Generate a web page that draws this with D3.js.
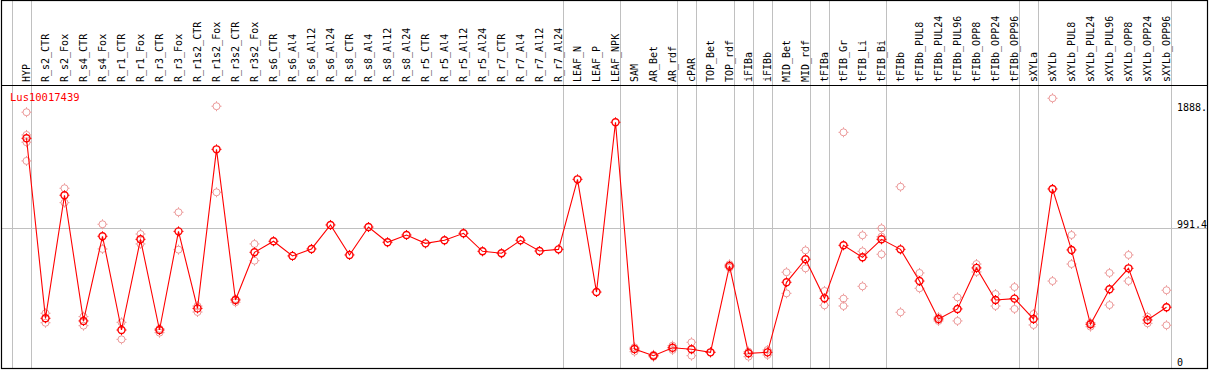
<!DOCTYPE html>
<html>
<head>
<meta charset="utf-8">
<script src="https://cdn.jsdelivr.net/npm/d3@7"></script>
<style>
  body { margin: 0; background: #fff; }
  text { font-family: "DejaVu Sans Mono", monospace; }
</style>
</head>
<body>
<div class="myChart"></div>
<script>
var geneName = 'Lus10017439'

var categories = ['HYP', 'R_s2_CTR', 'R_s2_Fox', 'R_s4_CTR', 'R_s4_Fox', 'R_r1_CTR', 'R_r1_Fox',
    'R_r3_CTR', 'R_r3_Fox', 'R_r1s2_CTR', 'R_r1s2_Fox', 'R_r3s2_CTR', 'R_r3s2_Fox', 'R_s6_CTR',
    'R_s6_Al4', 'R_s6_Al12', 'R_s6_Al24', 'R_s8_CTR', 'R_s8_Al4', 'R_s8_Al12', 'R_s8_Al24',
    'R_r5_CTR', 'R_r5_Al4', 'R_r5_Al12', 'R_r5_Al24', 'R_r7_CTR', 'R_r7_Al4', 'R_r7_Al12',
    'R_r7_Al24', 'LEAF_N', 'LEAF_P', 'LEAF_NPK', 'SAM', 'AR_Bet', 'AR_rdf', 'cPAR', 'TOP_Bet',
    'TOP_rdf', 'iFIBa', 'iFIBb', 'MID_Bet', 'MID_rdf', 'tFIBa', 'tFIB_Gr', 'tFIB_Li', 'tFIB_Bi',
    'tFIBb', 'tFIBb_PUL8', 'tFIBb_PUL24', 'tFIBb_PUL96', 'tFIBb_OPP8', 'tFIBb_OPP24', 'tFIBb_OPP96',
    'sXYLa', 'sXYLb', 'sXYLb_PUL8', 'sXYLb_PUL24', 'sXYLb_PUL96', 'sXYLb_OPP8', 'sXYLb_OPP24',
    'sXYLb_OPP96']

// mean expression per sample
var means = [1632, 342, 1224, 323, 930, 258, 908, 258, 965, 413, 1553, 473, 815,
    894, 789, 839, 1011, 796, 996, 887, 939, 879, 901, 951, 822, 808, 901, 824, 836,
    1338, 530, 1747,
    122, 74, 131, 120, 98, 717, 91, 98, 600, 765, 485, 865, 779, 908,
    836, 609, 337, 409, 703, 473, 483,
    337, 1269, 832, 299, 550, 700, 330, 421]

// single replicates (light circles)
var replicates = [
    [1819, 1656, 1604, 1470], [378, 310], [1274, 1171], [354, 289], [1016, 839],
    [313, 191], [946, 875], [267, 239], [1102, 834], [430, 387], [1862, 1245],
    [480, 457], [875, 755],
    [], [], [], [], [], [], [], [], [], [], [], [], [], [], [], [],
    [], [], [],
    [134, 103], [80, 66], [146, 115], [170, 74], [98], [729, 705], [103, 67], [115, 79],
    [672, 521], [829, 700], [538, 435], [1675, 483, 430], [937, 822, 571], [987, 927, 801],
    [1285, 385], [667, 557], [350, 323], [492, 323], [731, 674], [516, 430], [566, 409],
    [373, 294], [1919, 609], [939, 731], [310, 282], [667, 437], [796, 609], [353, 306],
    [543, 292]]

// last sample of each group (gray separators)
var groupEnds = ['HYP', 'R_r7_Al24', 'LEAF_NPK', 'AR_rdf', 'cPAR', 'TOP_rdf', 'iFIBa', 'iFIBb',
    'MID_rdf', 'tFIBa', 'tFIB_Bi', 'tFIBb_OPP96', 'sXYLa', 'sXYLb_OPP96']

var yTicks = [0, 991.4, 1888]
var yTickLabels = ['0', '991.4', '1888.']

var width = 1209
var height = 370

var svg = d3
    .select('.myChart')
    .append('svg')
    .attr('width', width)
    .attr('height', height)
    .style('display', 'block')

var xScale = d3.scalePoint().domain(categories).range([26.5, 1166.5])
var yScale = d3.scaleLinear().domain([0, 1888]).range([366, 102.6])
var step = xScale.step()

// separators
var sepX = [xScale(categories[0]) - step + 4].concat(groupEnds.map((c) => xScale(c) + 4))
svg.selectAll('.sep')
    .data(sepX)
    .enter()
    .append('line')
    .attr('x1', (d) => Math.round(d) + 0.5)
    .attr('x2', (d) => Math.round(d) + 0.5)
    .attr('y1', 0)
    .attr('y2', 369)
    .attr('stroke', '#c0c0c0')
    .attr('stroke-width', 1)

// middle grid line
svg.append('line')
    .attr('x1', 1)
    .attr('x2', 1208)
    .attr('y1', Math.round(yScale(991.4)) + 0.5)
    .attr('y2', Math.round(yScale(991.4)) + 0.5)
    .attr('stroke', '#c0c0c0')

// frame
svg.append('rect')
    .attr('x', 1.5)
    .attr('y', 0.5)
    .attr('width', 1206)
    .attr('height', 368)
    .attr('fill', 'none')
    .attr('stroke', '#000')
    .attr('stroke-width', 1.2)

svg.append('line')
    .attr('x1', 1)
    .attr('x2', 1208)
    .attr('y1', 85.5)
    .attr('y2', 85.5)
    .attr('stroke', '#000')
    .attr('stroke-width', 1.2)

// sample labels
svg.selectAll('.lab')
    .data(categories)
    .enter()
    .append('text')
    .attr('transform', (d) => `translate(${xScale(d) + 3.5}, 82) rotate(-90)`)
    .attr('text-anchor', 'start')
    .style('font-size', '10px')
    .attr('fill', '#000')
    .text((d) => d)

// right value labels
svg.selectAll('.ytick')
    .data(yTicks)
    .enter()
    .append('text')
    .attr('x', 1177)
    .attr('y', (d, i) => (i == yTicks.length - 1 ? yScale(d) + 8 : yScale(d)))
    .style('font-size', '10px')
    .attr('fill', '#000')
    .text((d, i) => yTickLabels[i])

svg.append('text')
    .attr('x', 10)
    .attr('y', 101)
    .style('font-size', '10.5px')
    .attr('fill', '#ff0000')
    .text(geneName)

// marker: circle with small ticks
function marker(g, cx, cy, color, sw) {
    g.append('circle')
        .attr('cx', cx)
        .attr('cy', cy)
        .attr('r', 3.5)
        .attr('fill', 'none')
        .attr('stroke', color)
        .attr('stroke-width', sw)
    var p = `M${cx},${cy - 3.5}v-1.5M${cx},${cy + 3.5}v1.5M${cx - 3.5},${cy}h-1.5M${cx + 3.5},${cy}h1.5`
    g.append('path').attr('d', p).attr('stroke', color).attr('stroke-width', 1).attr('fill', 'none')
}

var repG = svg.append('g')
categories.forEach((c, i) => {
    replicates[i].forEach((v) => {
        marker(repG, xScale(c), yScale(v), '#ec9a9a', 1)
    })
})

var line = d3.line()
    .x((d, i) => xScale(categories[i]))
    .y((d) => yScale(d))

svg.append('path')
    .datum(means)
    .attr('d', line)
    .attr('fill', 'none')
    .attr('stroke', '#ff0000')
    .attr('stroke-width', 1.1)

var meanG = svg.append('g')
categories.forEach((c, i) => {
    marker(meanG, xScale(c), yScale(means[i]), '#ff0000', 1.4)
})
</script>
</body>
</html>
